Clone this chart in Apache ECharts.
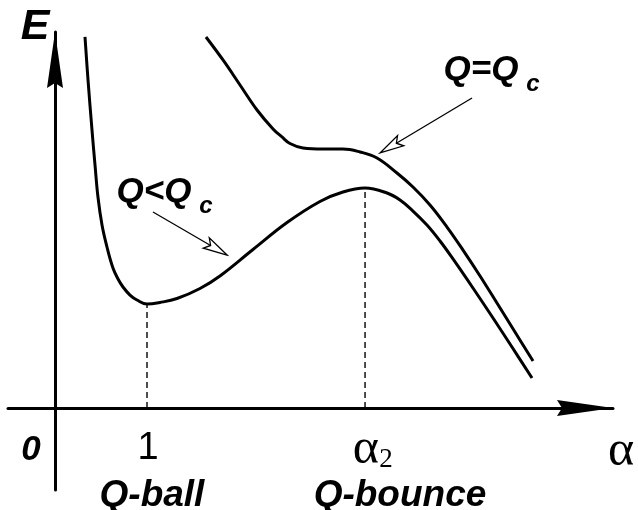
<!DOCTYPE html>
<html>
<head>
<meta charset="utf-8">
<script src="https://cdn.jsdelivr.net/npm/echarts@6/dist/echarts.min.js"></script>
<style>
html,body{margin:0;padding:0;background:#fff;}
#main{width:638px;height:510px;}
</style>
</head>
<body>
<div id="main"></div>
<script>
// Q<Qc 曲线
var lowerAlpha = [0.326,0.359,0.402,0.435,0.467,0.511,0.565,0.630,0.685,0.739,0.815,0.891,1.000,1.141,1.326,1.576,1.793,2.152,2.522,2.880,3.130,3.370,3.609,3.750,3.891,4.043,4.185,4.326,4.543,4.761,4.967,5.185];
var lowerE     = [4.033,3.565,3.022,2.641,2.293,1.989,1.750,1.522,1.402,1.315,1.228,1.174,1.130,1.147,1.190,1.299,1.435,1.723,2.016,2.245,2.348,2.391,2.337,2.261,2.141,1.989,1.815,1.620,1.304,0.978,0.663,0.326];
// Q=Qc 曲线
var upperAlpha = [1.641,1.826,2.011,2.196,2.370,2.467,2.554,2.696,2.913,3.130,3.315,3.500,3.717,3.891,4.076,4.261,4.435,4.620,4.804,5.000,5.196];
var upperE     = [4.033,3.783,3.511,3.239,3.033,2.946,2.875,2.826,2.815,2.815,2.783,2.717,2.554,2.402,2.207,1.967,1.717,1.435,1.141,0.826,0.511];
// Q-ball / Q-bounce
var markAlpha = [1.000, 3.370];
var markE     = [1.130, 2.391];
// 注释箭头 [x0,y0,x1,y1]
var arrows = [
    [4.533, 3.370, 3.533, 2.772],
    [1.065, 2.130, 1.870, 1.663]
];
// 文字
var labelText  = ['E', 'Q=Q', 'c', 'Q<Q', 'c', '0', '1', 'α', '2', 'α', 'Q-ball', 'Q-bounce'];
var labelAlpha = [-0.217, 4.630, 5.196, 1.076, 1.641, -0.261, 1.011, 3.380, 3.598, 6.152, 1.054, 3.750];
var labelE     = [4.141, 3.674, 3.522, 2.348, 2.196, -0.457, -0.435, -0.457, -0.565, -0.478, -0.957, -0.957];
var labelKind  = ['e', 'q', 'sub', 'q', 'sub', 'zero', 'one', 'greek', 'greekSub', 'greek', 'name', 'name'];

var fontSans = '"Liberation Sans", Arial, sans-serif';
var fontSerif = '"Liberation Serif", "Times New Roman", serif';
var labelFonts = {
    e: 'italic bold 43px ' + fontSans,
    q: 'italic bold 35px ' + fontSans,
    name: 'italic bold 37px ' + fontSans,
    sub: 'italic bold 24px ' + fontSans,
    zero: 'italic bold 35px ' + fontSans,
    one: 'normal 38px ' + fontSans,
    greek: 'normal 50px ' + fontSerif,
    greekSub: 'normal 27px ' + fontSerif
};

function zip(xs, ys){
    var out = [];
    for (var i = 0; i < xs.length; i++) {
        out.push([xs[i], ys[i]]);
    }
    return out;
}

function renderArrow(params, api){
    var p0 = api.coord([api.value(0), api.value(1)]);
    var p1 = api.coord([api.value(2), api.value(3)]);
    var dx = p1[0] - p0[0], dy = p1[1] - p0[1];
    var len = Math.sqrt(dx * dx + dy * dy);
    var ux = dx / len, uy = dy / len;
    var nx = -uy, ny = ux;
    var L = 24, W = 6, N = 5;
    var bx = p1[0] - ux * L, by = p1[1] - uy * L;
    var mx = p1[0] - ux * (L - N), my = p1[1] - uy * (L - N);
    return {
        type: 'group',
        children: [
            {type: 'line', shape: {x1: p0[0], y1: p0[1], x2: mx, y2: my}, style: {stroke: '#000', lineWidth: 1.3}},
            {type: 'polygon', shape: {points: [[p1[0], p1[1]], [bx + nx * W, by + ny * W], [mx, my], [bx - nx * W, by - ny * W]]},
                style: {fill: '#fff', stroke: '#000', lineWidth: 1.3}}
        ]
    };
}

function renderLabel(params, api){
    var p = api.coord([api.value(0), api.value(1)]);
    var i = params.dataIndex;
    return {
        type: 'text',
        x: p[0],
        y: p[1],
        style: {
            text: labelText[i],
            fill: '#000',
            font: labelFonts[labelKind[i]],
            align: 'center',
            verticalAlign: 'middle'
        }
    };
}

function chartPotential(id){
    var myChart = echarts.init(document.getElementById(id));
    var arrowHead = 'path://M8,0 L16,56 L8,51 L0,56 Z';
    var axisLine = {
        onZero: true,
        lineStyle: {color: '#000', width: 3},
        symbol: ['none', arrowHead],
        symbolSize: [16, 56],
        symbolOffset: [0, -28]
    };

    var dashed = [];
    for (var i = 0; i < markAlpha.length; i++) {
        dashed.push({
            type: 'line',
            data: [[markAlpha[i], 0], [markAlpha[i], markE[i]]],
            symbol: 'none',
            silent: true,
            lineStyle: {color: '#000', width: 1.4, type: [6, 4]}
        });
    }

    var option = {
        animation: false,
        backgroundColor: '#fff',
        grid: {left: 8, right: 25, top: 32, bottom: 20},
        xAxis: {
            type: 'value',
            min: -0.5109,
            max: 6.0652,
            axisLine: axisLine,
            axisTick: {show: false},
            axisLabel: {show: false},
            splitLine: {show: false}
        },
        yAxis: {
            type: 'value',
            min: -0.8913,
            max: 4.087,
            axisLine: axisLine,
            axisTick: {show: false},
            axisLabel: {show: false},
            splitLine: {show: false}
        },
        series: dashed.concat([
            {
                name: 'Q<Qc',
                type: 'line',
                data: zip(lowerAlpha, lowerE),
                smooth: 0.4,
                symbol: 'none',
                silent: true,
                lineStyle: {color: '#000', width: 3}
            },
            {
                name: 'Q=Qc',
                type: 'line',
                data: zip(upperAlpha, upperE),
                smooth: 0.4,
                symbol: 'none',
                silent: true,
                lineStyle: {color: '#000', width: 3}
            },
            {
                type: 'custom',
                renderItem: renderArrow,
                data: arrows,
                silent: true
            },
            {
                type: 'custom',
                renderItem: renderLabel,
                data: zip(labelAlpha, labelE),
                clip: false,
                silent: true
            }
        ])
    };

    myChart.setOption(option);

    return myChart;
}

chartPotential('main');
</script>
</body>
</html>
